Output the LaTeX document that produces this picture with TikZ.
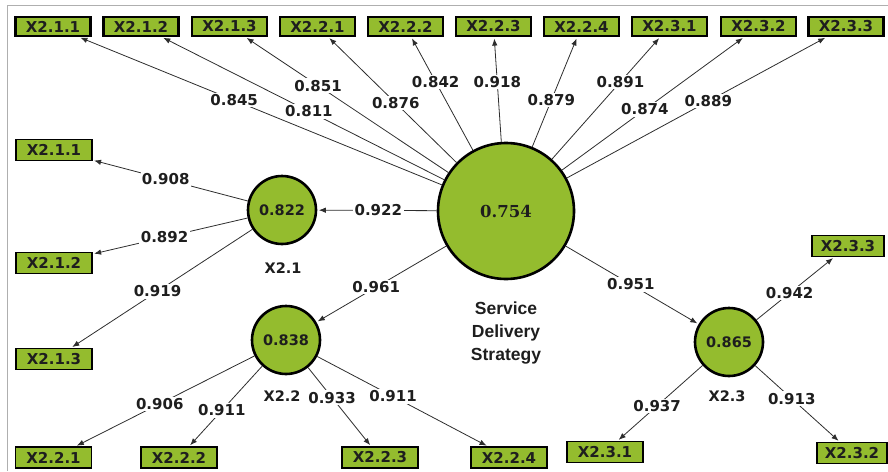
\documentclass[tikz,border=0pt]{standalone}
\usepackage{fontspec}
\setmainfont{DejaVu Sans}
\newfontfamily\arialfont{Liberation Sans}[BoldFont={Liberation Sans Bold}]
\newfontfamily\seriffont{DejaVu Serif}
\usetikzlibrary{arrows.meta,calc}
\definecolor{pgreen}{RGB}{148,188,46}
\definecolor{lineclr}{RGB}{45,45,45}
\definecolor{frameclr}{RGB}{175,175,175}
\definecolor{txtclr}{RGB}{30,30,30}
\tikzset{
  topbox/.style={draw=black, line width=2.2pt, fill=pgreen, minimum width=75pt, minimum height=19pt,
    inner sep=0pt, font=\fontsize{15}{16}\selectfont\bfseries, text=txtclr},
  sidebox/.style={draw=black, line width=1.3pt, fill=pgreen, minimum width=76pt, minimum height=21pt,
    inner sep=0pt, font=\fontsize{15}{16}\selectfont\bfseries, text=txtclr},
  lv/.style={circle, draw=black, line width=2.6pt, fill=pgreen, inner sep=0pt,
    font=\fontsize{14.5}{16}\selectfont\bfseries, text=txtclr},
  conn/.style={draw=lineclr, line width=0.8pt, -{Latex[length=7pt,width=5.5pt]}, shorten >=1.5pt},
  lbl/.style={fill=white, inner sep=1.5pt, font=\fontsize{15}{16}\selectfont\bfseries, text=txtclr},
  lvname/.style={inner sep=0pt, font=\fontsize{14.5}{16}\selectfont\bfseries, text=txtclr},
}
\begin{document}
\begin{tikzpicture}[x=1pt,y=-1pt]
\useasboundingbox (0,0) rectangle (888,471);
\draw[frameclr, line width=1.6pt] (7.5,471) -- (7.5,5.5) -- (888,5.5);

% latent variables
\node[lv, minimum size=136pt] (sds) at (506,211) {\seriffont\fontsize{16.5}{18}\selectfont\bfseries 0.754};
\node[lv, minimum size=68pt] (x21) at (282,210) {0.822};
\node[lv, minimum size=68pt] (x22) at (286,340) {0.838};
\node[lv, minimum size=68pt] (x23) at (729,342) {0.865};

\node[lvname] (n21) at (283,268) {X2.1};
\node[lvname] (n22) at (282,396) {X2.2};
\node[lvname] (n23) at (727,396) {X2.3};
\node[align=center, inner sep=0pt, font=\arialfont\bfseries\fontsize{17.5}{23}\selectfont, text=txtclr] (nsds) at (506,333) {Service\\Delivery\\Strategy};

% top indicators
\node[topbox] (t211) at (53,26.5) {X2.1.1};
\node[topbox] (t212) at (141,26.5) {X2.1.2};
\node[topbox] (t213) at (229.5,26.5) {X2.1.3};
\node[topbox] (t221) at (317.5,26.5) {X2.2.1};
\node[topbox] (t222) at (405.5,26.5) {X2.2.2};
\node[topbox] (t223) at (493.5,26.5) {X2.2.3};
\node[topbox] (t224) at (581.5,26.5) {X2.2.4};
\node[topbox] (t231) at (669.5,26.5) {X2.3.1};
\node[topbox] (t232) at (758.5,26.5) {X2.3.2};
\node[topbox] (t233) at (846,26.5) {X2.3.3};

% side indicators
\node[sidebox] (b211) at (54,150) {X2.1.1};
\node[sidebox] (b212) at (54,263) {X2.1.2};
\node[sidebox] (b213) at (54,359) {X2.1.3};
\node[sidebox] (b221) at (53.5,457.5) {X2.2.1};
\node[sidebox] (b222) at (179,457.5) {X2.2.2};
\node[sidebox] (b223) at (380,457.5) {X2.2.3};
\node[sidebox] (b224) at (509,457.5) {X2.2.4};
\node[sidebox] (b231) at (605,452) {X2.3.1};
\node[sidebox, minimum width=70pt] (b232) at (852,453) {X2.3.2};
\node[sidebox, minimum width=72pt] (b233) at (848,246) {X2.3.3};

% SDS to top indicators
\foreach \b/\t/\v in {t211/0.6/0.845, t212/0.54/0.811, t213/0.68/0.851, t221/0.585/0.876,
  t222/0.70/0.842, t223/0.70/0.918, t224/0.60/0.879, t231/0.70/0.891, t232/0.55/0.874, t233/0.595/0.889}{
  \draw[conn] (sds) -- (\b);
  \node[lbl] (l-\b) at ($(sds)!\t!(\b)$) {\v};
}

% structural paths
\draw[conn] (sds) -- (x21);
\node[lbl] (l-x21) at ($(sds)!0.57!(x21)$) {0.922};
\draw[conn] (sds) -- (x22);
\node[lbl] (l-x22) at ($(sds)!0.59!(x22)$) {0.961};
\draw[conn] (sds) -- (x23);
\node[lbl] (l-x23) at ($(sds)!0.56!(x23)$) {0.951};

% X2.1 indicators
\draw[conn] (x21) -- (b211);
\node[lbl] (l-b211) at ($(x21)!0.51!(b211)$) {0.908};
\draw[conn] (x21) -- (b212);
\node[lbl] (l-b212) at ($(x21)!0.515!(b212)$) {0.892};
\draw[conn] (x21) -- (b213);
\node[lbl] (l-b213) at ($(x21)!0.546!(b213)$) {0.919};

% X2.2 indicators
\draw[conn] (x22) -- (b221);
\node[lbl] (l-b221) at ($(x22)!0.543!(b221)$) {0.906};
\draw[conn] (x22) -- (b222);
\node[lbl] (l-b222) at ($(x22)!0.6!(b222)$) {0.911};
\draw[conn] (x22) -- (b223);
\node[lbl] (l-b223) at ($(x22)!0.49!(b223)$) {0.933};
\draw[conn] (x22) -- (b224);
\node[lbl] (l-b224) at ($(x22)!0.48!(b224)$) {0.911};

% X2.3 indicators
\draw[conn] (x23) -- (b233);
\node[lbl] (l-b233) at ($(x23)!0.51!(b233)$) {0.942};
\draw[conn] (x23) -- (b231);
\node[lbl] (l-b231) at ($(x23)!0.58!(b231)$) {0.937};
\draw[conn] (x23) -- (b232);
\node[lbl] (l-b232) at ($(x23)!0.51!(b232)$) {0.913};
\end{tikzpicture}
\end{document}
